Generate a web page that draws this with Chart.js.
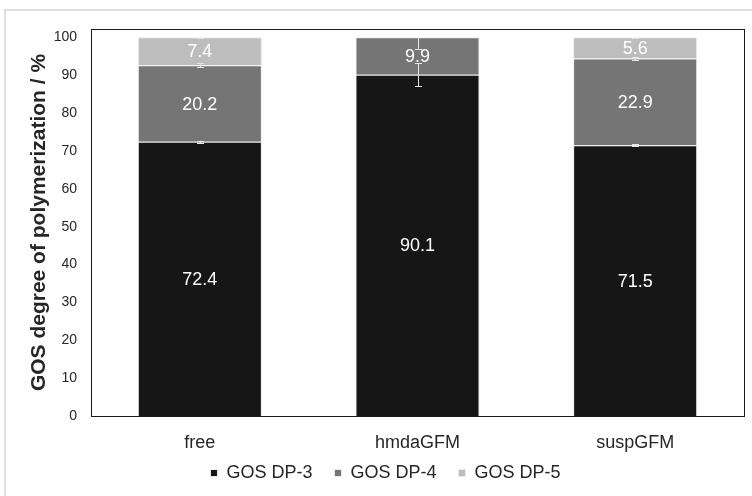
<!DOCTYPE html>
<html>
<head>
<meta charset="utf-8">
<script src="https://cdn.jsdelivr.net/npm/chart.js@4"></script>
<style>
  body { margin: 0; background: #fff; }
  #wrap { width: 752px; height: 496px; }
</style>
</head>
<body>
<div id="wrap"><canvas id="chart"></canvas></div>
<script>
const categories = ["free", "hmdaGFM", "suspGFM"];
const seriesNames = ["GOS DP-3", "GOS DP-4", "GOS DP-5"];
const dp3 = [72.4, 90.1, 71.5];
const dp4 = [20.2, 9.9, 22.9];
const dp5 = [7.4, 0, 5.6];
const err3 = [0.3, 3.0, 0.3];
const err4 = [0.5, 3.0, 0.4];
const err5 = [0.3, 0, 0.3];
const yTicks = [0, 10, 20, 30, 40, 50, 60, 70, 80, 90, 100];

const colors = ["#161616", "#757575", "#bdbdbd"];
const errors = [err3, err4, err5];

// outer light frame + dark plot frame, legend nudged up
const frames = {
  id: "frames",
  afterLayout(chart) {
    chart.legend.top -= 14;
    chart.legend.bottom -= 14;
  },
  beforeDraw(chart) {
    const c = chart.ctx;
    c.save();
    c.strokeStyle = "#dedede";
    c.lineWidth = 2;
    c.beginPath();
    c.moveTo(5, 496);
    c.lineTo(5, 10);
    c.lineTo(752, 10);
    c.stroke();
    c.restore();
  },
  afterDatasetsDraw(chart) {
    const a = chart.chartArea;
    const c = chart.ctx;
    c.save();
    c.strokeStyle = "#1a1a1a";
    c.lineWidth = 1;
    c.strokeRect(Math.round(a.left) + 0.5, Math.round(a.top) + 0.5,
      Math.round(a.right - a.left), Math.round(a.bottom - a.top));
    c.restore();
  }
};

// error bars and value labels
const marks = {
  id: "marks",
  afterDatasetsDraw(chart) {
    const c = chart.ctx;
    const y = chart.scales.y;
    const a = chart.chartArea;
    c.save();
    c.beginPath();
    c.rect(a.left, y.getPixelForValue(100), a.right - a.left, a.bottom - y.getPixelForValue(100));
    c.clip();
    c.strokeStyle = "#e4e4e4";
    c.lineWidth = 1;
    chart.data.datasets.forEach((ds, di) => {
      const meta = chart.getDatasetMeta(di);
      meta.data.forEach((el, i) => {
        const e = errors[di][i];
        if (!e) return;
        let top = 0;
        for (let k = 0; k <= di; k++) top += chart.data.datasets[k].data[i];
        const x = Math.round(el.x) + 0.5;
        const y1 = y.getPixelForValue(top + e);
        const y2 = y.getPixelForValue(top - e);
        c.beginPath();
        c.moveTo(x, y1); c.lineTo(x, y2);
        c.moveTo(x - 3.5, Math.round(y1) + 0.5); c.lineTo(x + 3.5, Math.round(y1) + 0.5);
        c.moveTo(x - 3.5, Math.round(y2) + 0.5); c.lineTo(x + 3.5, Math.round(y2) + 0.5);
        c.stroke();
      });
    });
    c.restore();

    c.save();
    c.fillStyle = "#ffffff";
    c.font = "18px 'Liberation Sans', Arial, sans-serif";
    c.textAlign = "center";
    c.textBaseline = "middle";
    chart.data.datasets.forEach((ds, di) => {
      const meta = chart.getDatasetMeta(di);
      meta.data.forEach((el, i) => {
        const v = ds.data[i];
        if (!v) return;
        c.fillText(v.toFixed(1), el.x, (el.y + el.base) / 2 + 1);
      });
    });
    c.restore();
  }
};

new Chart(document.getElementById("chart"), {
  type: "bar",
  data: {
    labels: categories,
    datasets: [dp3, dp4, dp5].map((d, i) => ({
      label: seriesNames[i],
      data: d,
      backgroundColor: colors[i],
      borderColor: "#ececec",
      borderWidth: 1,
      categoryPercentage: 1,
      barPercentage: 0.57
    }))
  },
  options: {
    responsive: true,
    maintainAspectRatio: false,
    animation: false,
    layout: { padding: { left: 27, right: 8, top: 29, bottom: -10 } },
    plugins: {
      tooltip: { enabled: false },
      legend: {
        position: "bottom",
        labels: {
          boxWidth: 7,
          boxHeight: 7,
          padding: 22,
          color: "#262626",
          font: { family: "'Liberation Sans', Arial, sans-serif", size: 18 }
        }
      }
    },
    scales: {
      x: {
        stacked: true,
        grid: { display: false, drawTicks: false },
        border: { display: false },
        ticks: {
          padding: 16,
          color: "#262626",
          font: { family: "'Liberation Sans', Arial, sans-serif", size: 18 }
        },
        afterFit(s) { s.height = 40; }
      },
      y: {
        stacked: true,
        min: 0,
        max: 102.2,
        grid: { display: false, drawTicks: false },
        border: { display: false },
        afterBuildTicks(s) { s.ticks = yTicks.map(v => ({ value: v })); },
        ticks: {
          padding: 14,
          color: "#262626",
          font: { family: "'Liberation Sans', Arial, sans-serif", size: 14 }
        },
        title: {
          display: true,
          text: "GOS degree of polymerization / %",
          color: "#262626",
          padding: { top: 0, bottom: 0 },
          font: { family: "'Liberation Sans', Arial, sans-serif", size: 21, weight: "bold" }
        },
        afterFit(s) { s.width = 64; }
      }
    }
  },
  plugins: [frames, marks]
});
</script>
</body>
</html>
